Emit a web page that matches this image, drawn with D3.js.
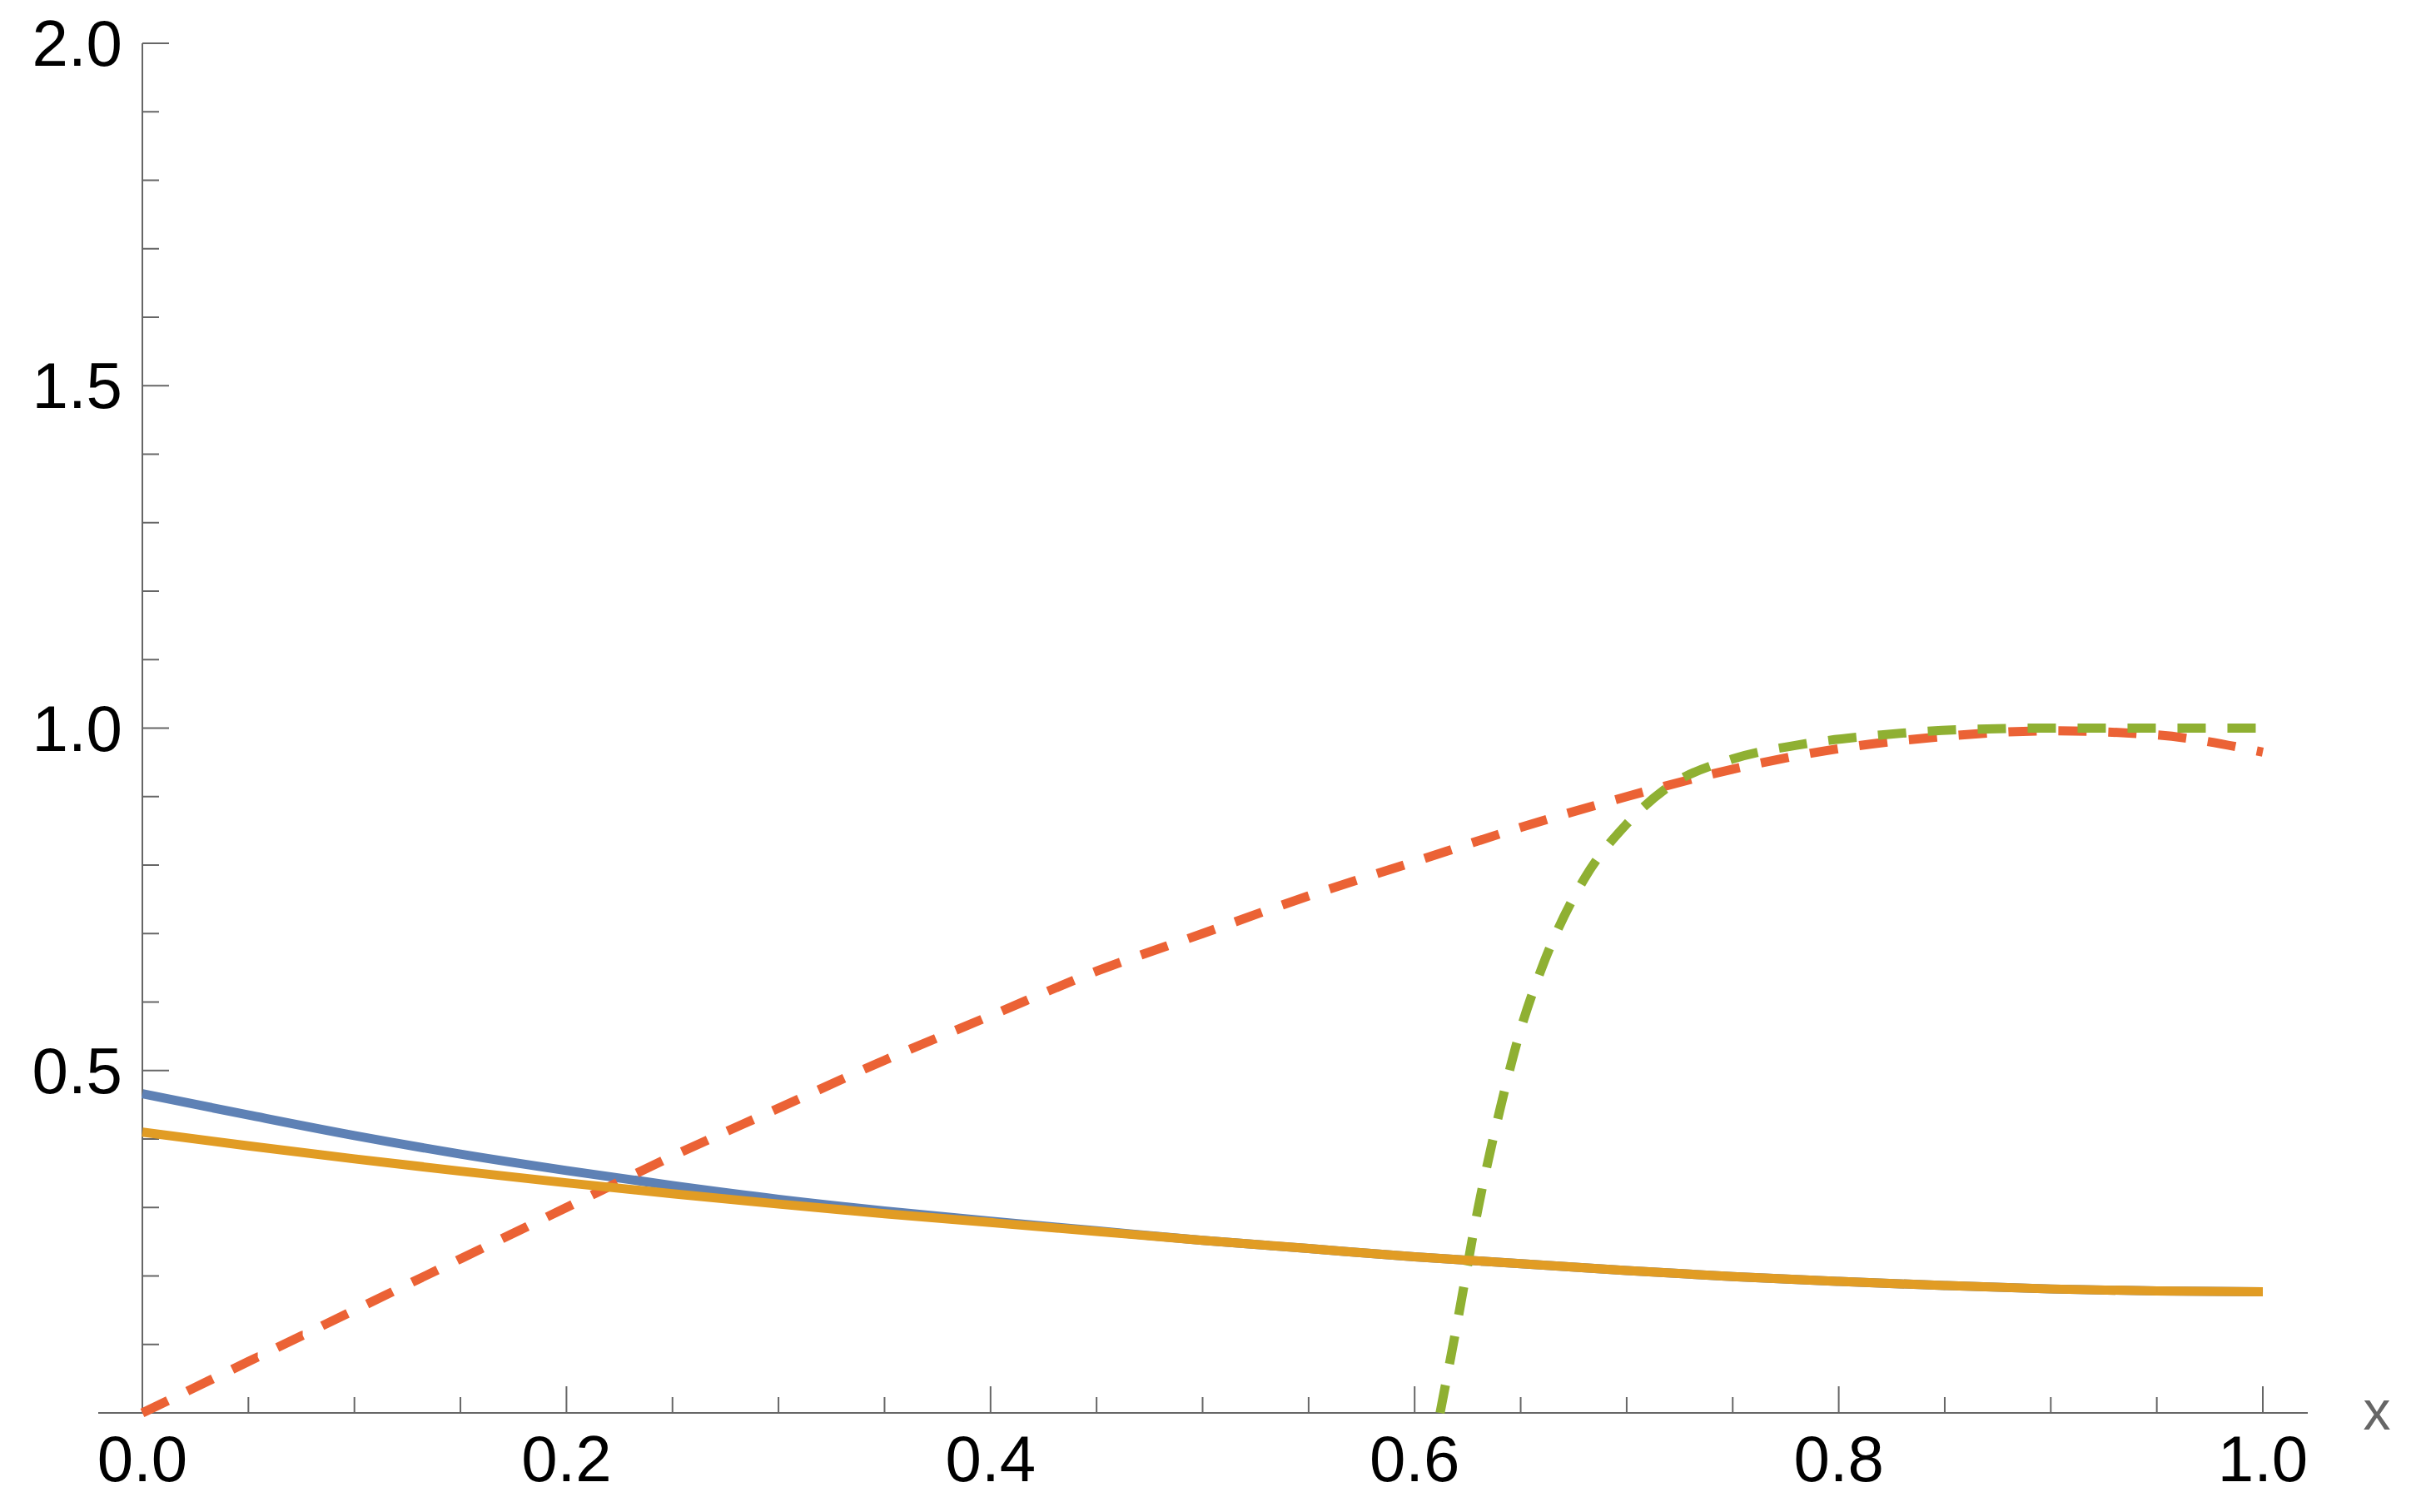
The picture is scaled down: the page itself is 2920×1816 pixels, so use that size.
<!DOCTYPE html>
<html><head><meta charset="utf-8">
<script src="https://cdn.jsdelivr.net/npm/d3@7"></script>
<style>body{margin:0;background:#fff}</style></head>
<body><div id="chart"></div>
<script>
// x samples
xs = [0,0.05,0.1,0.15,0.2,0.25,0.3,0.35,0.4,0.45,0.5,0.55,0.6,0.65,0.7,0.75,0.8,0.85,0.9,0.95,1.0];
blueY   = [0.466,0.435,0.405,0.378,0.354,0.332,0.312,0.295,0.280,0.266,0.252,0.240,0.228,0.218,0.208,0.199,0.192,0.186,0.181,0.178,0.177];
orangeY = [0.410,0.390,0.371,0.353,0.336,0.320,0.305,0.291,0.278,0.265,0.252,0.240,0.228,0.218,0.208,0.199,0.192,0.186,0.181,0.178,0.177];
redY    = [0.0,0.075,0.15,0.225,0.30,0.375,0.445,0.515,0.58,0.645,0.70,0.755,0.805,0.855,0.90,0.94,0.97,0.988,0.996,0.99,0.965];
greenX  = [0.612,0.62,0.63,0.64,0.65,0.66,0.68,0.70,0.72,0.75,0.78,0.82,0.86,0.9,0.95,1.0];
greenY  = [0.0,0.13,0.3,0.44,0.56,0.65,0.78,0.86,0.915,0.955,0.975,0.99,0.998,1.0,1.0,1.0];
xTicks = [0,0.2,0.4,0.6,0.8,1.0];
yTicks = [0.5,1.0,1.5,2.0];

width = 2920; height = 1816;
x = d3.scaleLinear().domain([0,1]).range([171,2718]);
y = d3.scaleLinear().domain([0,2]).range([1697,52]);

const svg = d3.select("#chart").append("svg").attr("width",width).attr("height",height);
const axisCol = "#666";

// x axis
svg.append("line").attr("x1",118).attr("x2",2772).attr("y1",y(0)).attr("y2",y(0)).attr("stroke",axisCol).attr("stroke-width",2);
svg.append("g").selectAll("line").data(d3.range(0,21).map(i=>i/20)).join("line")
  .attr("x1",d=>x(d)).attr("x2",d=>x(d)).attr("y1",y(0))
  .attr("y2",(d,i)=>y(0)-(i%4===0?32:19)).attr("stroke",axisCol).attr("stroke-width",2);
svg.append("g").selectAll("text").data(xTicks).join("text")
  .attr("x",d=>x(d)).attr("y",y(0)+82).attr("text-anchor","middle")
  .attr("font-family","Liberation Sans, Arial").attr("font-size",78).text(d=>d.toFixed(1));
svg.append("text").attr("x",2855).attr("y",1717).attr("text-anchor","middle")
  .attr("font-family","Liberation Sans, Arial").attr("font-size",66).attr("fill",axisCol).text("x");

// y axis
svg.append("line").attr("x1",x(0)).attr("x2",x(0)).attr("y1",y(0)).attr("y2",y(2)).attr("stroke",axisCol).attr("stroke-width",2);
svg.append("g").selectAll("line").data(d3.range(1,21).map(i=>i/10)).join("line")
  .attr("y1",d=>y(d)).attr("y2",d=>y(d)).attr("x1",x(0))
  .attr("x2",(d,i)=>x(0)+((i+1)%5===0?32:20)).attr("stroke",axisCol).attr("stroke-width",2);
svg.append("g").selectAll("text").data(yTicks).join("text")
  .attr("x",x(0)-24).attr("y",d=>y(d)+27).attr("text-anchor","end")
  .attr("font-family","Liberation Sans, Arial").attr("font-size",78).text(d=>d.toFixed(1));

const line = d3.line().x(d=>x(d[0])).y(d=>y(d[1])).curve(d3.curveMonotoneX);
const plot = svg.append("g");
function draw(px, py, col, dash){
  plot.append("path").datum(px.map((v,i)=>[v,py[i]]))
    .attr("d",line).attr("fill","none").attr("stroke",col).attr("stroke-width",11)
    .attr("stroke-dasharray",dash||null);
}
draw(xs, blueY, "#5e81b5");
draw(xs, redY, "#eb6235", "34,26");
draw(greenX, greenY, "#8fb032", "34,26");
draw(xs, orangeY, "#e19c24");
</script></body></html>
